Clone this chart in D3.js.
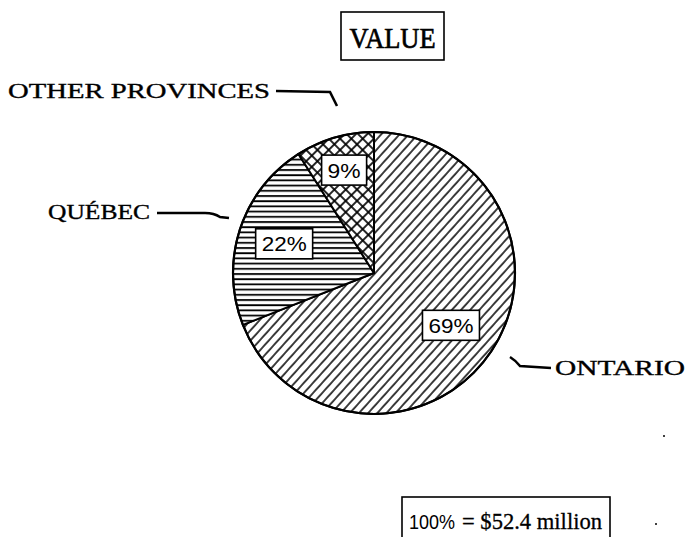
<!DOCTYPE html>
<html><head><meta charset="utf-8">
<script src="https://cdn.jsdelivr.net/npm/d3@7"></script>
<style>
html,body{margin:0;padding:0;background:#fff;}
svg{display:block;}
</style></head>
<body>
<script>
// ---- data ----
const categories = ["ONTARIO", "QUÉBEC", "OTHER PROVINCES"];
const shares = [69, 22, 9];
const shareLabels = ["69%", "22%", "9%"];
const title = "VALUE";
const totalNote = ["100%", "= $52.4 million"];

const W = 693, H = 537;
const svg = d3.select("body").append("svg").attr("width", W).attr("height", H);
const defs = svg.append("defs");

// patterns
const p1 = defs.append("pattern").attr("id","diag").attr("patternUnits","userSpaceOnUse")
  .attr("width",6.8).attr("height",6.8).attr("patternTransform","rotate(42)");
p1.append("rect").attr("width",6.8).attr("height",6.8).attr("fill","#fff");
p1.append("line").attr("x1",1).attr("x2",1).attr("y1",0).attr("y2",6.8).attr("stroke","#000").attr("stroke-width",1.5);

const p2 = defs.append("pattern").attr("id","horiz").attr("patternUnits","userSpaceOnUse")
  .attr("width",10).attr("height",5.2);
p2.append("rect").attr("width",10).attr("height",5.2).attr("fill","#fff");
p2.append("line").attr("x1",0).attr("x2",10).attr("y1",1).attr("y2",1).attr("stroke","#000").attr("stroke-width",1.8);

const p3 = defs.append("pattern").attr("id","cross").attr("patternUnits","userSpaceOnUse")
  .attr("width",8).attr("height",8).attr("patternTransform","rotate(45)");
p3.append("rect").attr("width",8).attr("height",8).attr("fill","#fff");
p3.append("line").attr("x1",0).attr("x2",8).attr("y1",1).attr("y2",1).attr("stroke","#000").attr("stroke-width",1.7);
p3.append("line").attr("x1",1).attr("x2",1).attr("y1",0).attr("y2",8).attr("stroke","#000").attr("stroke-width",1.7);

const fills = d3.scaleOrdinal().domain(categories).range(["url(#diag)","url(#horiz)","url(#cross)"]);

const cx = 374, cy = 273, R = 141;
const pie = d3.pie().sort(null).value(d => d.v);
const data = categories.map((c,i) => ({c, v: shares[i], lab: shareLabels[i]}));
const arcs = pie(data);
const arc = d3.arc().innerRadius(0).outerRadius(R);

const g = svg.append("g").attr("transform", `translate(${cx},${cy})`);
g.selectAll("path.slice").data(arcs).enter().append("path")
  .attr("class","slice")
  .attr("d", arc)
  .attr("fill", d => fills(d.data.c))
  .attr("stroke","#000").attr("stroke-width",2).attr("stroke-linejoin","round");
g.append("circle").attr("r",R).attr("fill","none").attr("stroke","#000").attr("stroke-width",2.2);

// value labels in boxes
const labelRadius = {"ONTARIO": R*0.66, "QUÉBEC": R*0.67, "OTHER PROVINCES": R*0.76};
const lab = g.selectAll("g.lab").data(arcs).enter().append("g").attr("class","lab")
  .attr("transform", d => {
    const r = labelRadius[d.data.c];
    const a = d3.arc().innerRadius(r).outerRadius(r);
    const [x,y] = a.centroid(d);
    return `translate(${x},${y})`;
  });
lab.each(function(d){
  const s = d3.select(this);
  const w = d.data.lab.length === 2 ? 45 : 57;
  s.append("rect").attr("x",-w/2).attr("y",-15).attr("width",w).attr("height",30)
    .attr("fill","#fff").attr("stroke","#000").attr("stroke-width",1.6);
  s.append("text").attr("text-anchor","middle").attr("y",7.5)
    .attr("font-family","'Liberation Sans', Arial, sans-serif").attr("font-size",20)
    .attr("textLength", w - 12).attr("lengthAdjust","spacingAndGlyphs")
    .text(d.data.lab);
});

const serif = "'Liberation Serif', 'DejaVu Serif', serif";

// title
const tg = svg.append("g");
tg.append("rect").attr("x",341).attr("y",12).attr("width",103).attr("height",48)
  .attr("fill","#fff").attr("stroke","#000").attr("stroke-width",1.6);
tg.append("text").attr("x",392.5).attr("y",48).attr("text-anchor","middle")
  .attr("font-family",serif).attr("font-size",30)
  .attr("stroke","#000").attr("stroke-width",0.7)
  .attr("textLength",86).attr("lengthAdjust","spacingAndGlyphs")
  .text(title);

// category labels with leaders
const catPos = {
  "OTHER PROVINCES": {x:8, y:98, len:262, leader:"M276,91 L330,92 L337,106"},
  "QUÉBEC": {x:48, y:219, len:102, leader:"M157,213 L205,213 Q214,213 220,217 L229,218"},
  "ONTARIO": {x:555, y:375, len:130, leader:"M510,357 Q515,360 520,366 L551,368"}
};
categories.forEach(c => {
  const p = catPos[c];
  svg.append("text").attr("x",p.x).attr("y",p.y)
    .attr("font-family",serif).attr("font-size",21)
    .attr("textLength",p.len).attr("lengthAdjust","spacingAndGlyphs")
    .attr("stroke","#000").attr("stroke-width",0.35)
    .text(c);
  svg.append("path").attr("d",p.leader).attr("fill","none").attr("stroke","#000").attr("stroke-width",2.6);
});

// total note
const ng = svg.append("g");
ng.append("rect").attr("x",402).attr("y",497).attr("width",208).attr("height",50)
  .attr("fill","#fff").attr("stroke","#000").attr("stroke-width",1.6);
ng.append("text").attr("x",409).attr("y",529)
  .attr("font-family","'Liberation Sans', Arial, sans-serif").attr("font-size",21)
  .attr("textLength",46).attr("lengthAdjust","spacingAndGlyphs").text(totalNote[0]);
ng.append("text").attr("x",462).attr("y",529)
  .attr("font-family",serif).attr("font-size",24)
  .attr("stroke","#000").attr("stroke-width",0.3)
  .attr("textLength",140).attr("lengthAdjust","spacingAndGlyphs").text(totalNote[1]);

// stray specks
svg.append("circle").attr("cx",664).attr("cy",436).attr("r",1).attr("fill","#000");
svg.append("circle").attr("cx",656).attr("cy",524).attr("r",1).attr("fill","#000");
</script>
</body></html>
